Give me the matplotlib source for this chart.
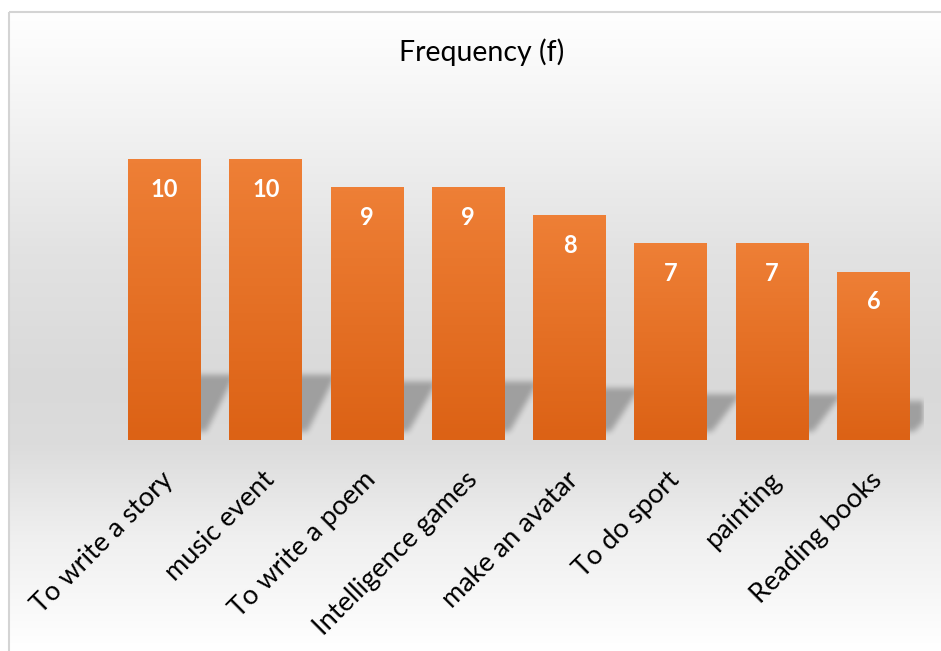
import numpy as np
import matplotlib.pyplot as plt
from matplotlib.colors import LinearSegmentedColormap
from matplotlib.patches import Rectangle
import matplotlib.transforms as mtransforms

plt.rcParams['font.family'] = ['Lato', 'DejaVu Sans']

activities = ['To write a story', 'music event', 'To write a poem', 'Intelligence games',
              'make an avatar', 'To do sport', 'painting', 'Reading books']
frequency = [10, 10, 9, 9, 8, 7, 7, 6]
title = 'Frequency (f)'

W, H = 941, 651
fig = plt.figure(figsize=(W / 100, H / 100), dpi=100)

# chart area background: grey vertical gradient, light frame
bg = fig.add_axes([0, 0, 1, 1], zorder=0)
bg.set_xlim(0, W)
bg.set_ylim(H, 0)
bg.axis('off')
stops = [(0.0, '#ffffff'), (0.14, '#f5f5f5'), (0.38, '#e2e2e2'), (0.58, '#d9d9d9'),
         (0.68, '#dcdcdc'), (0.82, '#efefef'), (1.0, '#ffffff')]
bg_cmap = LinearSegmentedColormap.from_list('bg', stops)
bg.imshow(np.linspace(0, 1, 256)[:, None], cmap=bg_cmap, aspect='auto',
          extent=(9, W, H, 11), origin='upper')
bg.add_patch(Rectangle((9.5, 11.5), W, H, fill=False, edgecolor='#d4d4d4', lw=1.5))

fig.text(482 / W, 1 - 52 / H, title, ha='center', va='center', fontsize=20.5, color='#000000')

# plot area
ax = fig.add_axes([114 / W, (H - 440) / H, (924 - 114) / W, (440 - 103) / H], zorder=1)
ax.patch.set_alpha(0)
x = np.arange(len(activities))
for s in ax.spines.values():
    s.set_visible(False)
ax.set_yticks([])

width = 0.72
bars = ax.bar(x, frequency, width=width, color='#e6732a', zorder=3)

# soft perspective shadows behind the lower part of each bar
nx, ny = 1620, 240
gx = np.linspace(-0.5, len(activities) - 0.5, nx)
gy = np.linspace(0, 3.0, ny)
GX, GY = np.meshgrid(gx, gy)
mask = np.zeros_like(GX)
for xi, v in zip(x, frequency):
    top = 0.23 * v
    bot = 0.3
    t = np.clip((GY - bot) / (top - bot), 0, 1)
    shift = 0.05 + 0.28 * t
    inside = (GY >= bot) & (GY <= top) & (GX >= xi - width / 2 + shift) & (GX <= xi + width / 2 + shift)
    mask = np.maximum(mask, inside.astype(float))

def blur(a, n, axis):
    k = np.ones(n) / n
    return np.apply_along_axis(lambda r: np.convolve(r, k, mode='same'), axis, a)

mask = blur(blur(mask, 13, 1), 13, 1)
mask = blur(blur(mask, 19, 0), 19, 0)
shadow = np.zeros((ny, nx, 4))
shadow[..., 3] = 0.27 * mask
ax.imshow(shadow, extent=(gx[0], gx[-1], gy[0], gy[-1]), origin='lower',
          aspect='auto', zorder=2, interpolation='bilinear')

# orange gradient inside bars
bar_cmap = LinearSegmentedColormap.from_list('bar', ['#dc6215', '#ee7f36'])
for b in bars:
    bx, by = b.get_x(), b.get_y()
    bw, bh = b.get_width(), b.get_height()
    im = ax.imshow(np.linspace(1, 0, 64)[:, None], cmap=bar_cmap, aspect='auto',
                   extent=(bx, bx + bw, by, by + bh), origin='upper', zorder=3.5)
    im.set_clip_path(b)

ax.set_xlim(-0.5, len(activities) - 0.5)
ax.set_ylim(0, 12)

for xi, v in zip(x, frequency):
    ax.annotate(str(v), (xi, v), xytext=(0, -30), textcoords='offset pixels',
                ha='center', va='center', color='white', fontweight='bold',
                fontsize=17, zorder=5)

ax.set_xticks(x)
ax.set_xticklabels(activities, rotation=45, ha='right', va='center',
                   rotation_mode='anchor', fontsize=19.5, color='#000000')
ax.tick_params(axis='x', length=0, pad=26)
offset = mtransforms.ScaledTranslation(5 / 100, 0, fig.dpi_scale_trans)
for lab in ax.get_xticklabels():
    lab.set_transform(lab.get_transform() + offset)

fig.savefig('out.png', dpi=100)
